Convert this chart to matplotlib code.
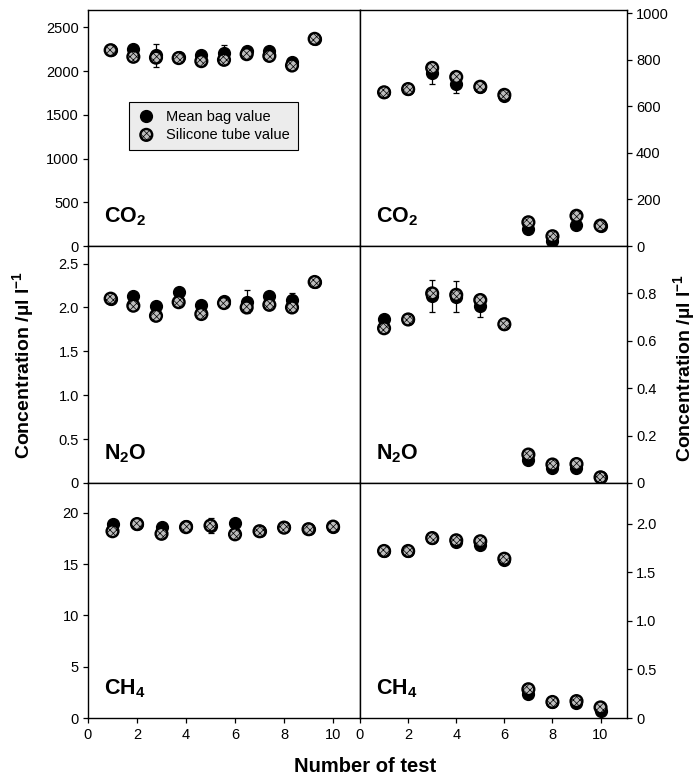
import numpy as np
import matplotlib
matplotlib.use("Agg")
import matplotlib.pyplot as plt

plt.rcParams["font.family"] = ["Liberation Sans", "DejaVu Sans"]
plt.rcParams["mathtext.fontset"] = "custom"
plt.rcParams["mathtext.rm"] = "Liberation Sans"
plt.rcParams["mathtext.bf"] = "Liberation Sans:bold"
plt.rcParams["hatch.linewidth"] = 0.5

tests = np.arange(1, 11)

# left column: ambient-level tests, right column: low concentration tests
co2_bag_left = [2240, 2250, 2180, 2160, 2190, 2210, 2230, 2230, 2100, 2370]
co2_sil_left = [2240, 2165, 2155, 2150, 2115, 2130, 2195, 2175, 2065, 2370]
co2_err_left = [0, 0, 130, 0, 0, 90, 0, 0, 40, 0]

co2_bag_right = [661, 675, 742, 695, 685, 645, 71, 21, 92, 84]
co2_sil_right = [661, 675, 766, 727, 685, 650, 102, 42, 130, 88]
co2_err_right = [0, 0, 47, 35, 0, 0, 0, 0, 0, 0]

n2o_bag_left = [2.10, 2.125, 2.02, 2.175, 2.03, 2.075, 2.065, 2.13, 2.085, 2.29]
n2o_sil_left = [2.10, 2.02, 1.905, 2.06, 1.925, 2.05, 2.00, 2.03, 2.00, 2.29]
n2o_err_left = [0, 0, 0, 0, 0, 0, 0.13, 0, 0.08, 0]

n2o_bag_right = [0.69, 0.69, 0.79, 0.786, 0.748, 0.67, 0.099, 0.063, 0.063, 0.024]
n2o_sil_right = [0.653, 0.69, 0.80, 0.794, 0.772, 0.67, 0.12, 0.078, 0.080, 0.024]
n2o_err_right = [0, 0, 0.067, 0.065, 0.047, 0, 0, 0, 0, 0]

ch4_bag_left = [18.9, 18.9, 18.65, 18.7, 18.75, 19.0, 18.2, 18.6, 18.45, 18.65]
ch4_sil_left = [18.2, 18.9, 17.95, 18.6, 18.75, 17.9, 18.2, 18.55, 18.4, 18.65]
ch4_err_left = [0, 0, 0, 0, 0.75, 0, 0, 0, 0, 0]

ch4_bag_right = [1.72, 1.72, 1.853, 1.81, 1.78, 1.63, 0.245, 0.16, 0.153, 0.075]
ch4_sil_right = [1.72, 1.72, 1.853, 1.83, 1.82, 1.64, 0.296, 0.165, 0.174, 0.109]
ch4_err_right = [0] * 10

W, H = 698, 778
fig = plt.figure(figsize=(W / 100, H / 100), dpi=100)


def px_axes(x0, y0, x1, y1):
    return fig.add_axes([x0 / W, 1 - y1 / H, (x1 - x0) / W, (y1 - y0) / H])


rows = [(10, 246), (246, 483), (483, 718)]
ax_l = [px_axes(88, r0, 360, r1) for r0, r1 in rows]
ax_r = [px_axes(360, r0, 627, r1) for r0, r1 in rows]


def draw(ax, bag, sil, err):
    bag = np.asarray(bag, float)
    err = np.asarray(err, float)
    m = err > 0
    ax.errorbar(tests[m], bag[m], yerr=err[m], fmt="none", ecolor="black",
                elinewidth=0.9, capsize=2.5, capthick=0.9, zorder=2)
    ax.plot(tests, bag, "o", color="black", ms=8.5, zorder=3,
            label="Mean bag value")
    ax.scatter(tests, sil, s=72, facecolor="#bdbdbd", edgecolor="black",
               linewidths=1.7, hatch="xxxxx", zorder=4,
               label="Silicone tube value")


panels = [
    (ax_l[0], co2_bag_left, co2_sil_left, co2_err_left, r"$\mathbf{CO_2}$",
     (0, 2700), [0, 500, 1000, 1500, 2000, 2500], ["0", "500", "1000", "1500", "2000", "2500"]),
    (ax_r[0], co2_bag_right, co2_sil_right, co2_err_right, r"$\mathbf{CO_2}$",
     (0, 1015), [0, 200, 400, 600, 800, 1000], ["0", "200", "400", "600", "800", "1000"]),
    (ax_l[1], n2o_bag_left, n2o_sil_left, n2o_err_left, r"$\mathbf{N_2O}$",
     (0, 2.7), [0, 0.5, 1.0, 1.5, 2.0, 2.5], ["0", "0.5", "1.0", "1.5", "2.0", "2.5"]),
    (ax_r[1], n2o_bag_right, n2o_sil_right, n2o_err_right, r"$\mathbf{N_2O}$",
     (0, 1.0), [0, 0.2, 0.4, 0.6, 0.8], ["0", "0.2", "0.4", "0.6", "0.8"]),
    (ax_l[2], ch4_bag_left, ch4_sil_left, ch4_err_left, r"$\mathbf{CH_4}$",
     (0, 22.9), [0, 5, 10, 15, 20], ["0", "5", "10", "15", "20"]),
    (ax_r[2], ch4_bag_right, ch4_sil_right, ch4_err_right, r"$\mathbf{CH_4}$",
     (0, 2.42), [0, 0.5, 1.0, 1.5, 2.0], ["0", "0.5", "1.0", "1.5", "2.0"]),
]

for ax, bag, sil, err, name, ylim, yt, ytl in panels:
    draw(ax, bag, sil, err)
    ax.set_ylim(*ylim)
    ax.set_yticks(yt)
    ax.set_yticklabels(ytl)
    ax.text(0.06, 0.10, name, transform=ax.transAxes, fontsize=15.5,
            va="baseline", ha="left")
    for s in ax.spines.values():
        s.set_linewidth(1.0)
    right = ax in ax_r
    ax.tick_params(axis="y", direction="out", length=3.5, width=0.9,
                   labelsize=10.5, pad=3, left=not right, labelleft=not right,
                   right=right, labelright=right)
    bottom = ax in (ax_l[2], ax_r[2])
    ax.tick_params(axis="x", direction="out", length=3.5, width=0.9,
                   labelsize=10.5, pad=4, bottom=bottom, labelbottom=bottom)

# upper two rows on the left were plotted on a slightly wider x range
for ax in ax_l[:2]:
    ax.set_xlim(0, 12)
for ax in ax_r + [ax_l[2]]:
    ax.set_xlim(0, 11.1)
for ax in (ax_l[2], ax_r[2]):
    ax.set_xticks([0, 2, 4, 6, 8, 10])

leg = ax_l[0].legend(loc="upper left", bbox_to_anchor=(0.15, 0.61),
                     fontsize=10.5, frameon=True, fancybox=False,
                     handletextpad=0.7, borderpad=0.55, labelspacing=0.25,
                     handlelength=1.3, borderaxespad=0)
leg.get_frame().set_edgecolor("black")
leg.get_frame().set_linewidth(0.8)
leg.get_frame().set_facecolor("#ececec")
leg.get_frame().set_alpha(1)

ylab = r"Concentration /µl l$^{\mathbf{-1}}$"
fig.text(24 / W, 1 - 365 / H, ylab, rotation=90, fontsize=14,
         fontweight="bold", ha="center", va="center")
fig.text(685 / W, 1 - 368 / H, ylab, rotation=90, fontsize=14,
         fontweight="bold", ha="center", va="center")
fig.text(365 / W, 1 - 766 / H, "Number of test", fontsize=14.5,
         fontweight="bold", ha="center", va="center")

fig.savefig("out.png", dpi=100)
